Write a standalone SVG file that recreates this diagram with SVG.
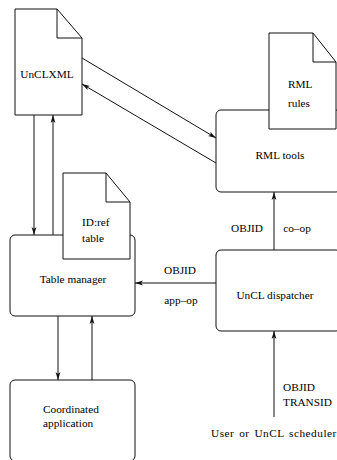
<svg xmlns="http://www.w3.org/2000/svg" width="337" height="460" viewBox="0 0 337 460">
<defs>
<marker id="ah" viewBox="0 0 8 6" refX="8" refY="3" markerWidth="8" markerHeight="6" markerUnits="userSpaceOnUse" orient="auto">
<path d="M0,0.6 L8,3 L0,5.4 L2,3 Z" fill="#111"/>
</marker>
</defs>
<style>
.s{fill:#fff;stroke:#111;stroke-width:1}
.f{fill:none;stroke:#111;stroke-width:1}
.c{fill:none;stroke:#111;stroke-width:1;marker-end:url(#ah)}
text{font-family:"Liberation Serif","Times New Roman",serif;font-size:11.3px;fill:#000}
.m{text-anchor:middle}
.u{letter-spacing:0.5px;word-spacing:1.5px}
</style>
<rect width="337" height="460" fill="#fff"/>
<g id="connectors">
<line class="c" x1="82" y1="58" x2="216" y2="138"/>
<line class="c" x1="216" y1="163" x2="82" y2="84"/>
<line class="c" x1="34" y1="115" x2="34" y2="235"/>
<line class="c" x1="53" y1="235" x2="53" y2="115"/>
<line class="c" x1="216" y1="283" x2="135" y2="283"/>
<line class="c" x1="274" y1="250" x2="274" y2="192"/>
<line class="c" x1="274" y1="417" x2="274" y2="331"/>
<line class="c" x1="58" y1="316" x2="58" y2="380"/>
<line class="c" x1="92" y1="380" x2="92" y2="316"/>
<text class="m" x="247" y="232">OBJID</text>
<text class="m" x="297" y="232">co–op</text>
<text class="m" x="180" y="274">OBJID</text>
<text class="m" x="181" y="304">app–op</text>
<text x="283" y="391">OBJID</text>
<text x="283" y="406">TRANSID</text>
<text class="u" x="211" y="437">User or UnCL scheduler</text>
</g>
<g id="unclxml">
<path class="s" d="M15,9 H57 L82,38 V115 H15 Z"/>
<path class="f" d="M57,9 V38 H82"/>
<text class="m" x="47" y="78">UnCLXML</text>
</g>
<g id="rml-tools">
<rect class="s" x="216" y="110" width="125" height="82" rx="5"/>
<text class="m" x="280" y="159">RML tools</text>
</g>
<g id="rml-rules">
<path class="s" d="M269,33 H313 L336,62 V129 H269 Z"/>
<path class="f" d="M313,33 V62 H336"/>
<text x="288" y="88">RML</text>
<text x="288" y="107">rules</text>
</g>
<g id="table-manager">
<rect class="s" x="10" y="235" width="125" height="81" rx="5"/>
<text class="m" x="73" y="283">Table manager</text>
</g>
<g id="idref-table">
<path class="s" d="M63,173 H106 L130,202 V259 H63 Z"/>
<path class="f" d="M106,173 V202 H130"/>
<text x="82" y="226">ID:ref</text>
<text x="82" y="242">table</text>
</g>
<g id="unc-dispatcher">
<rect class="s" x="216" y="250" width="125" height="81" rx="5"/>
<text class="m" x="275" y="299">UnCL dispatcher</text>
</g>
<g id="coordinated-application">
<rect class="s" x="10" y="380" width="125" height="81" rx="5"/>
<text x="43" y="413">Coordinated</text>
<text x="43" y="427">application</text>
</g>
</svg>
